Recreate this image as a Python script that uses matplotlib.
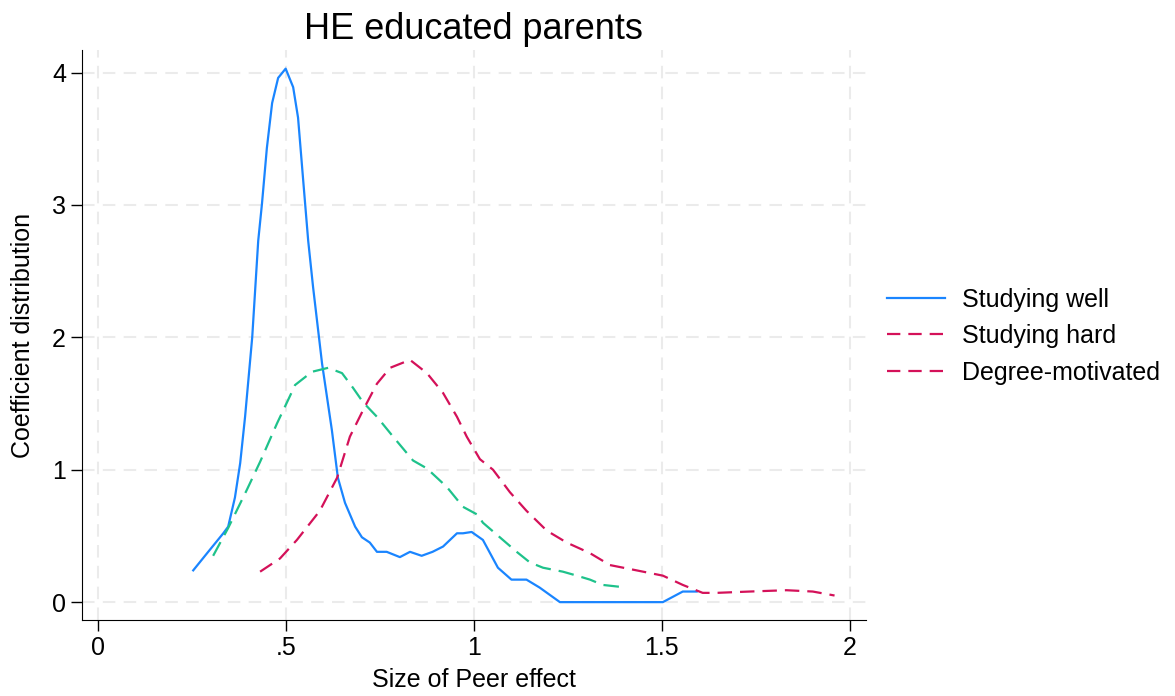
import matplotlib.pyplot as plt
from matplotlib.lines import Line2D

plt.rcParams['font.family'] = ['Liberation Sans', 'DejaVu Sans']

# Studying well (solid blue)
well_x = [0.253, 0.29, 0.333, 0.346, 0.364, 0.378, 0.391, 0.41, 0.426, 0.436, 0.449,
          0.463, 0.479, 0.499, 0.519, 0.532, 0.545, 0.559, 0.572, 0.596, 0.622, 0.638,
          0.657, 0.684, 0.702, 0.723, 0.742, 0.768, 0.803, 0.83, 0.861, 0.89, 0.918,
          0.955, 0.971, 0.994, 1.024, 1.064, 1.1, 1.14, 1.175, 1.229, 1.503, 1.556, 1.593]
well_y = [0.24, 0.37, 0.52, 0.57, 0.79, 1.05, 1.40, 2.0, 2.73, 3.01, 3.43,
          3.77, 3.96, 4.03, 3.89, 3.66, 3.21, 2.73, 2.38, 1.8, 1.3, 0.94,
          0.75, 0.57, 0.49, 0.45, 0.38, 0.38, 0.34, 0.38, 0.35, 0.38, 0.42,
          0.52, 0.52, 0.53, 0.47, 0.26, 0.17, 0.17, 0.11, 0.0, 0.0, 0.08, 0.08]

# Studying hard (green dashed)
hard_x = [0.306, 0.346, 0.396, 0.431, 0.476, 0.511, 0.524, 0.569, 0.612, 0.649, 0.678,
          0.705, 0.742, 0.785, 0.838, 0.875, 0.928, 0.971, 1.01, 1.024, 1.069, 1.114,
          1.149, 1.184, 1.237, 1.274, 1.309, 1.343, 1.407]
hard_y = [0.35, 0.56, 0.85, 1.06, 1.35, 1.56, 1.64, 1.74, 1.77, 1.73, 1.62,
          1.51, 1.40, 1.25, 1.07, 1.01, 0.87, 0.72, 0.66, 0.60, 0.49, 0.38,
          0.30, 0.26, 0.23, 0.20, 0.17, 0.13, 0.11]

# Degree-motivated (crimson dashed)
degree_x = [0.431, 0.484, 0.529, 0.59, 0.636, 0.67, 0.705, 0.742, 0.777, 0.83, 0.875,
            0.918, 0.955, 0.981, 1.016, 1.051, 1.096, 1.14, 1.194, 1.247, 1.309, 1.362,
            1.433, 1.503, 1.556, 1.609, 1.646, 1.734, 1.832, 1.902, 1.96]
degree_y = [0.23, 0.33, 0.47, 0.69, 0.94, 1.25, 1.45, 1.65, 1.77, 1.83, 1.73,
            1.58, 1.40, 1.25, 1.08, 1.0, 0.83, 0.69, 0.54, 0.45, 0.37, 0.28,
            0.24, 0.20, 0.13, 0.07, 0.07, 0.08, 0.09, 0.08, 0.05]

x_ticks = [0, 0.5, 1, 1.5, 2]
x_labels = ['0', '.5', '1', '1.5', '2']
y_ticks = [0, 1, 2, 3, 4]
labels = ['Studying well', 'Studying hard', 'Degree-motivated']

blue = '#1a85ff'
crimson = '#d41159'
green = '#1ec28b'

fig = plt.figure(figsize=(11.75, 6.96), dpi=100)
ax = fig.add_axes([0.0698, 0.109, 0.667, 0.819])

line_kw = dict(lw=1.6, solid_joinstyle='round', dash_joinstyle='round')
ax.plot(well_x, well_y, color=blue, **line_kw)
ax.plot(hard_x, hard_y, color=green, dashes=(7, 3.6), **line_kw)
ax.plot(degree_x, degree_y, color=crimson, dashes=(6.5, 3.6), **line_kw)

ax.set_xlim(-0.043, 2.043)
ax.set_ylim(-0.136, 4.17)
ax.set_xticks(x_ticks)
ax.set_xticklabels(x_labels)
ax.set_yticks(y_ticks)
ax.grid(True, color='#ebebeb', lw=1.5, dashes=(6, 4))
ax.set_axisbelow(True)
for s in ['top', 'right']:
    ax.spines[s].set_visible(False)
ax.tick_params(axis='both', labelsize=18, length=8, width=1, direction='out')
ax.set_xlabel('Size of Peer effect', fontsize=18, labelpad=6)
ax.set_ylabel('Coefficient distribution', fontsize=18, labelpad=12)
ax.set_title('HE educated parents', fontsize=26, pad=8)

handles = [Line2D([], [], color=blue, lw=1.6),
           Line2D([], [], color=crimson, lw=1.6, dashes=(6, 3.6)),
           Line2D([], [], color=crimson, lw=1.6, dashes=(6, 3.6))]
fig.legend(handles, labels, loc='center left', bbox_to_anchor=(0.755, 0.517),
           frameon=False, fontsize=18, handlelength=2.3, handletextpad=0.7,
           labelspacing=0.5, borderpad=0, borderaxespad=0)

fig.savefig('out.png', dpi=100)
